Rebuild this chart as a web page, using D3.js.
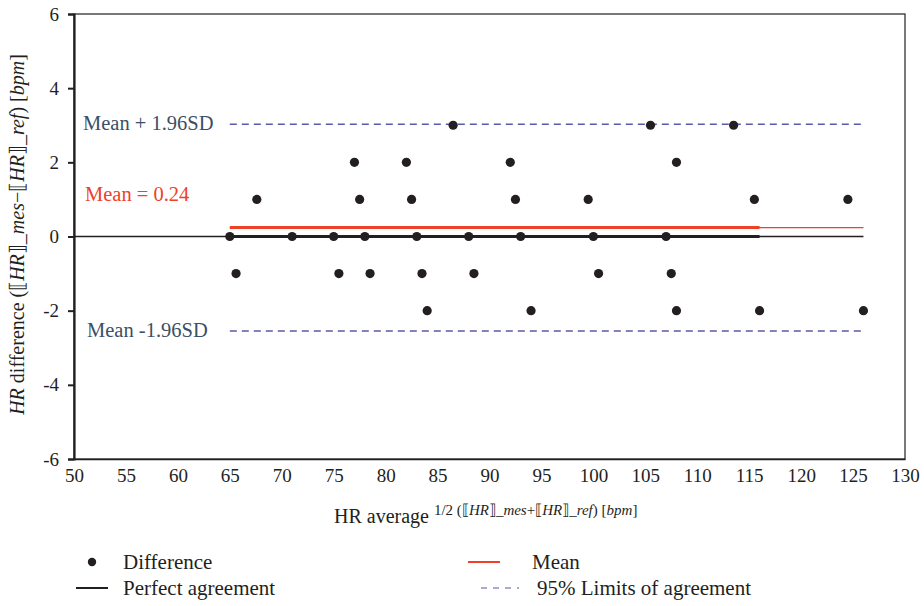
<!DOCTYPE html>
<html>
<head>
<meta charset="utf-8">
<script src="https://cdn.jsdelivr.net/npm/d3@7"></script>
<style>
  body { margin: 0; background: #fff; }
</style>
</head>
<body>
<div id="chart"></div>
<script>
// HR average (x) and HR difference (y) for each measurement
var avgHR = [86.5, 105.5, 113.5,
             77.0, 82.0, 92.0, 108.0,
             67.6, 77.5, 82.5, 92.5, 99.5, 115.5, 124.5,
             65.0, 71.0, 75.0, 78.0, 83.0, 88.0, 93.0, 100.0, 107.0,
             65.6, 75.5, 78.5, 83.5, 88.5, 100.5, 107.5,
             84.0, 94.0, 108.0, 116.0, 126.0];
var diffHR = [3, 3, 3,
              2, 2, 2, 2,
              1, 1, 1, 1, 1, 1, 1,
              0, 0, 0, 0, 0, 0, 0, 0, 0,
              -1, -1, -1, -1, -1, -1, -1,
              -2, -2, -2, -2, -2];

var meanDiff = 0.24;
var upperLimit = 3.03;
var lowerLimit = -2.55;
var lineStart = 65, lineMainEnd = 116, lineEnd = 126;

var xTicks = d3.range(50, 131, 5);
var yTicks = [-6, -4, -2, 0, 2, 4, 6];

(function () {
    var width = 924, height = 606;
    var serif = "'Liberation Serif', serif";

    var svg = d3.select("#chart").append("svg")
        .attr("width", width)
        .attr("height", height)
        .style("font-family", serif);

    var x = d3.scaleLinear().domain([50, 130]).range([74, 905]);
    var y = d3.scaleLinear().domain([-6, 6]).range([459, 14]);

    // frame
    svg.append("rect")
        .attr("x", x(50)).attr("y", y(6))
        .attr("width", x(130) - x(50)).attr("height", y(-6) - y(6))
        .attr("fill", "none").attr("stroke", "#231f20").attr("stroke-width", 1.2);

    // y axis
    var yAxis = svg.append("g")
        .attr("transform", "translate(" + x(50) + ",0)")
        .call(d3.axisLeft(y).tickValues(yTicks).tickFormat(d => String(d)).tickSize(6).tickPadding(9));
    yAxis.select(".domain").attr("stroke", "#231f20").attr("stroke-width", 2.2);
    yAxis.selectAll(".tick line").attr("stroke", "#231f20").attr("stroke-width", 2);
    yAxis.selectAll(".tick text")
        .style("font-family", serif)
        .attr("font-size", 19).attr("fill", "#231f20");

    // x axis
    var xAxis = svg.append("g")
        .attr("transform", "translate(0," + y(-6) + ")")
        .call(d3.axisBottom(x).tickValues(xTicks).tickFormat(d => String(d)).tickSize(0).tickPadding(10));
    xAxis.select(".domain").attr("stroke", "#231f20").attr("stroke-width", 1.6);
    xAxis.selectAll(".tick text")
        .style("font-family", serif)
        .attr("font-size", 19).attr("fill", "#231f20");

    // perfect agreement (thin full + thick main)
    svg.append("line")
        .attr("x1", x(50)).attr("x2", x(lineEnd))
        .attr("y1", y(0)).attr("y2", y(0))
        .attr("stroke", "#231f20").attr("stroke-width", 1.3);
    svg.append("line")
        .attr("x1", x(lineStart)).attr("x2", x(lineMainEnd))
        .attr("y1", y(0)).attr("y2", y(0))
        .attr("stroke", "#231f20").attr("stroke-width", 3);

    // mean line
    svg.append("line")
        .attr("x1", x(lineStart)).attr("x2", x(lineEnd))
        .attr("y1", y(meanDiff)).attr("y2", y(meanDiff))
        .attr("stroke", "#ee4128").attr("stroke-width", 1.3);
    svg.append("line")
        .attr("x1", x(lineStart)).attr("x2", x(lineMainEnd))
        .attr("y1", y(meanDiff)).attr("y2", y(meanDiff))
        .attr("stroke", "#ee4128").attr("stroke-width", 3);

    // limits of agreement
    svg.selectAll("line.limit")
        .data([upperLimit, lowerLimit])
        .join("line")
        .attr("class", "limit")
        .attr("x1", x(lineStart)).attr("x2", x(lineEnd))
        .attr("y1", d => y(d)).attr("y2", d => y(d))
        .attr("stroke", "#5a5aa8").attr("stroke-width", 1.5)
        .attr("stroke-dasharray", "7,5");

    // points
    svg.append("g")
        .selectAll("circle")
        .data(avgHR.map((v, i) => [v, diffHR[i]]))
        .join("circle")
        .attr("cx", d => x(d[0]))
        .attr("cy", d => y(d[1]))
        .attr("r", 4.6)
        .attr("fill", "#231f20");

    // annotations
    svg.append("text").attr("x", 83).attr("y", y(upperLimit) + 6)
        .attr("font-size", 20.5).attr("fill", "#3b5066").text("Mean + 1.96SD");
    svg.append("text").attr("x", 85).attr("y", 201)
        .attr("font-size", 20.5).attr("fill", "#ee4128").text("Mean = 0.24");
    svg.append("text").attr("x", 87).attr("y", y(lowerLimit) + 6)
        .attr("font-size", 20.5).attr("fill", "#3b5066").text("Mean -1.96SD");

    // y label
    var yl = svg.append("text")
        .attr("transform", "translate(24," + (y(0) - 2) + ") rotate(-90)")
        .attr("text-anchor", "middle")
        .attr("font-size", 20).attr("fill", "#231f20");
    yl.append("tspan").attr("font-style", "italic").text("HR");
    yl.append("tspan").text(" difference (\u27E6");
    yl.append("tspan").attr("font-style", "italic").text("HR");
    yl.append("tspan").text("\u27E7_");
    yl.append("tspan").attr("font-style", "italic").text("mes");
    yl.append("tspan").text("\u2212\u27E6");
    yl.append("tspan").attr("font-style", "italic").text("HR");
    yl.append("tspan").text("\u27E7_");
    yl.append("tspan").attr("font-style", "italic").text("ref");
    yl.append("tspan").text(") [");
    yl.append("tspan").attr("font-style", "italic").text("bpm");
    yl.append("tspan").text("]");

    // x label
    var xl = svg.append("text")
        .attr("x", 334).attr("y", 523)
        .attr("font-size", 20).attr("fill", "#231f20");
    xl.append("tspan").text("HR average ");
    var sup = [["1/2 (\u27E6", false], ["HR", true], ["\u27E7_", false], ["mes", true],
               ["+\u27E6", false], ["HR", true], ["\u27E7_", false], ["ref", true],
               [") [", false], ["bpm", true], ["]", false]];
    sup.forEach(function (s, i) {
        var t = xl.append("tspan").attr("font-size", 15).text(s[0]);
        if (i === 0) t.attr("dy", -8);
        if (s[1]) t.attr("font-style", "italic");
    });

    // legend
    var lg = svg.append("g").attr("font-size", 21).attr("fill", "#231f20");
    lg.append("circle").attr("cx", 92).attr("cy", 562).attr("r", 4.2).attr("fill", "#231f20");
    lg.append("text").attr("x", 123).attr("y", 569).text("Difference");
    lg.append("line").attr("x1", 76).attr("x2", 108).attr("y1", 588).attr("y2", 588)
        .attr("stroke", "#231f20").attr("stroke-width", 2);
    lg.append("text").attr("x", 123).attr("y", 595).text("Perfect agreement");
    lg.append("line").attr("x1", 468).attr("x2", 500).attr("y1", 562).attr("y2", 562)
        .attr("stroke", "#ee4128").attr("stroke-width", 2);
    lg.append("text").attr("x", 532).attr("y", 569).text("Mean");
    lg.append("line").attr("x1", 481).attr("x2", 519).attr("y1", 588).attr("y2", 588)
        .attr("stroke", "#5a5aa8").attr("stroke-width", 1.2).attr("stroke-dasharray", "6,6");
    lg.append("text").attr("x", 537).attr("y", 595).text("95% Limits of agreement");
})();
</script>
</body>
</html>
